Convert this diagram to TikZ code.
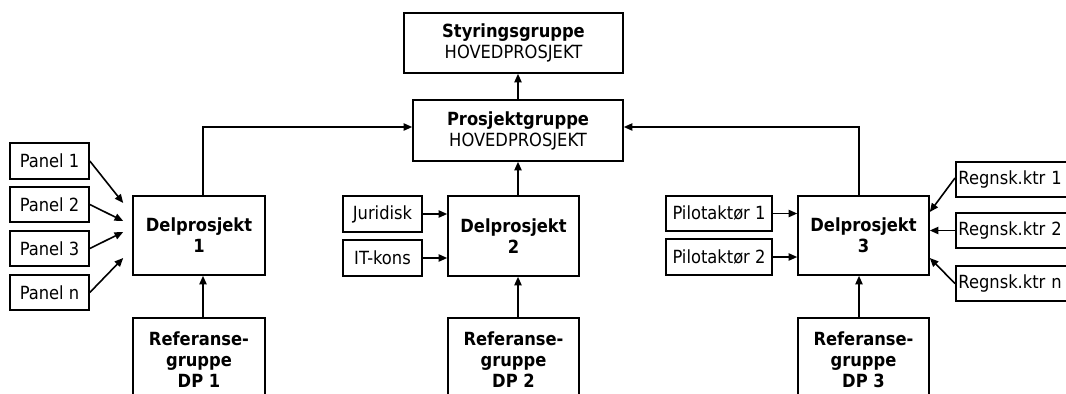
\documentclass[tikz,border=0pt]{standalone}
\usepackage{fontspec}
\setmainfont{DejaVu Sans Condensed}
\usetikzlibrary{arrows.meta,calc}
\newcommand\pxu{0.75pt}
\begin{document}
\begin{tikzpicture}[x=0.75pt,y=-0.75pt,
  every node/.style={font=\fontsize{13.6pt}{15.75pt}\selectfont},
  box/.style={draw,line width=1.2pt,inner sep=0pt,align=center},
  conn/.style={line width=1.2pt,-{Triangle[length=6.5pt,width=5.5pt]}},
  plain/.style={line width=1.2pt}]
\clip (0,0) rectangle (1066,393);
\fill[white] (0,0) rectangle (1066,393);
% main nodes
\node[box,minimum width=219*\pxu,minimum height=60*\pxu] (sg) at (513.5,43) {\textbf{Styringsgruppe}\\HOVEDPROSJEKT};
\node[box,minimum width=210*\pxu,minimum height=61*\pxu] (pg) at (518,130.5) {\textbf{Prosjektgruppe}\\HOVEDPROSJEKT};
\node[box,minimum width=132*\pxu,minimum height=79*\pxu] (dp1) at (199,235.5) {\textbf{Delprosjekt}\\\textbf{1}};
\node[box,minimum width=131*\pxu,minimum height=80*\pxu] (dp2) at (513.5,236) {\textbf{Delprosjekt}\\\textbf{2}};
\node[box,minimum width=131*\pxu,minimum height=79*\pxu] (dp3) at (863.5,235.5) {\textbf{Delprosjekt}\\\textbf{3}};
\node[box,minimum width=132*\pxu,minimum height=84*\pxu] (ref1) at (199,360) {\textbf{Referanse-}\\\textbf{gruppe}\\\textbf{DP 1}};
\node[box,minimum width=131*\pxu,minimum height=84*\pxu] (ref2) at (513.5,360) {\textbf{Referanse-}\\\textbf{gruppe}\\\textbf{DP 2}};
\node[box,minimum width=131*\pxu,minimum height=84*\pxu] (ref3) at (863.5,360) {\textbf{Referanse-}\\\textbf{gruppe}\\\textbf{DP 3}};
% panels
\node[box,minimum width=79*\pxu,minimum height=36*\pxu] (p1) at (49.5,161) {Panel 1};
\node[box,minimum width=79*\pxu,minimum height=35*\pxu] (p2) at (49.5,204.5) {Panel 2};
\node[box,minimum width=79*\pxu,minimum height=35*\pxu] (p3) at (49.5,248.5) {Panel 3};
\node[box,minimum width=79*\pxu,minimum height=35*\pxu] (pn) at (49.5,292.5) {Panel n};
% dp2 inputs
\node[box,minimum width=79*\pxu,minimum height=36*\pxu] (jur) at (382.5,214) {Juridisk};
\node[box,minimum width=79*\pxu,minimum height=36*\pxu] (itk) at (382.5,258) {IT-kons};
% dp3 inputs
\node[box,minimum width=106*\pxu,minimum height=35*\pxu] (pil1) at (719,213.5) {Pilotaktør 1};
\node[box,minimum width=106*\pxu,minimum height=36*\pxu] (pil2) at (719,257) {Pilotaktør 2};
\node[box,minimum width=125*\pxu,minimum height=35*\pxu,anchor=west,align=left,inner xsep=2pt,text width=121*\pxu] (rk1) at (955,179.5) {Regnsk.ktr 1};
\node[box,minimum width=125*\pxu,minimum height=35*\pxu,anchor=west,align=left,inner xsep=2pt,text width=121*\pxu] (rk2) at (955,230.5) {Regnsk.ktr 2};
\node[box,minimum width=125*\pxu,minimum height=35*\pxu,anchor=west,align=left,inner xsep=2pt,text width=121*\pxu] (rkn) at (955,283.5) {Regnsk.ktr n};
% connectors top
\draw[conn] (pg.north) -- (pg.north |- sg.south);
\draw[conn] ($(dp1.north)+(4,0)$) |- ($(pg.west)+(0,-3.5)$);
\draw[conn] ($(dp3.north)+(-4.5,0)$) |- ($(pg.east)+(0,-3.5)$);
\draw[conn] (dp2.north -| pg.south) -- (pg.south);
% ref to dp
\draw[conn] ($(ref1.north)+(4,0)$) -- ($(dp1.south)+(4,0)$);
\draw[conn] ($(ref2.north)+(4.5,0)$) -- ($(dp2.south)+(4.5,0)$);
\draw[conn] ($(ref3.north)+(-4.5,0)$) -- ($(dp3.south)+(-4.5,0)$);
% panels
\draw[conn] (p1.east) -- ($(dp1.west)+(-9,-32.5)$);
\draw[conn] (p2.east) -- ($(dp1.west)+(-9,-14.5)$);
\draw[conn] (p3.east) -- ($(dp1.west)+(-9,-3.5)$);
\draw[conn] (pn.east) -- ($(dp1.west)+(-9,22.5)$);
% dp2 inputs
\draw[conn] (jur.east) -- (jur.east -| dp2.west);
\draw[conn] (itk.east) -- (itk.east -| dp2.west);
% dp3 inputs
\draw[conn] (pil1.east) -- (pil1.east -| dp3.west);
\draw[conn] (pil2.east) -- (pil2.east -| dp3.west);
\draw[conn] ($(rk1.west)+(0,-1.5)$) -- ($(dp3.east)+(0,-23.5)$);
\draw[conn] (rk2.west) -- (rk2.west -| dp3.east);
\draw[conn] (rkn.west) -- ($(dp3.east)+(0,22.5)$);
\end{tikzpicture}
\end{document}
